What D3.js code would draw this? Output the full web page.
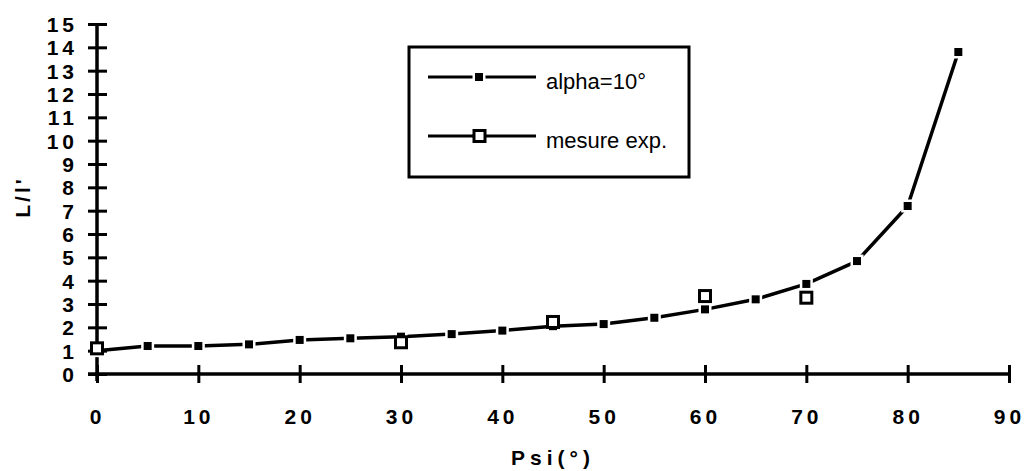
<!DOCTYPE html>
<html><head><meta charset="utf-8">
<script src="https://cdn.jsdelivr.net/npm/d3@7/dist/d3.min.js"></script>
<style>
body{margin:0;background:#fff}
text{font-family:"Liberation Sans",Arial,Helvetica,sans-serif;fill:#000}
</style>
</head><body>
<svg id="chart" width="1024" height="471"></svg>
<script>
// ---- data ----
const psiTheory   = [0, 5, 10, 15, 20, 25, 30, 35, 40, 45, 50, 55, 60, 65, 70, 75, 80, 85];
const ratioTheory = [1.0, 1.2, 1.2, 1.27, 1.46, 1.53, 1.6, 1.71, 1.86, 2.05, 2.14, 2.41, 2.77, 3.2, 3.86, 4.84, 7.2, 13.8];
const psiMeasured   = [0, 30, 45, 60, 70];
const ratioMeasured = [1.1, 1.36, 2.23, 3.34, 3.27];
const xTickValues = [0, 10, 20, 30, 40, 50, 60, 70, 80, 90];
const yTickValues = [0, 1, 2, 3, 4, 5, 6, 7, 8, 9, 10, 11, 12, 13, 14, 15];
const seriesNames = ["alpha=10°", "mesure exp."];
const xTitle = "Psi(°)";
const yTitle = "L/l'";

const svg = d3.select("#chart");
const x = d3.scaleLinear().domain([0, 90]).range([97, 1009]);
const y = d3.scaleLinear().domain([0, 15]).range([374, 24]);

const theory = psiTheory.map((p, i) => ({p, v: ratioTheory[i]}));
const measured = psiMeasured.map((p, i) => ({p, v: ratioMeasured[i]}));

// ---- axes ----
const yAxis = svg.append("g").attr("transform", `translate(${x(0)},0)`)
  .call(d3.axisLeft(y).tickValues(yTickValues).tickSizeInner(9).tickSizeOuter(0).tickPadding(10));
yAxis.select(".domain").remove();
yAxis.selectAll(".tick line").attr("x1", 10).attr("stroke", "#000").attr("stroke-width", 3);
yAxis.selectAll(".tick text").attr("font-size", 21).attr("font-weight", "bold")
  .attr("letter-spacing", "4px").attr("dy", "0.36em");
svg.append("line").attr("x1", x(0)).attr("x2", x(0)).attr("y1", y(15)).attr("y2", y(0) + 7)
  .attr("stroke", "#000").attr("stroke-width", 3.5);

const xAxis = svg.append("g").attr("transform", `translate(0,${y(0)})`)
  .call(d3.axisBottom(x).tickValues(xTickValues).tickSizeInner(9).tickSizeOuter(0).tickPadding(26));
xAxis.select(".domain").remove();
xAxis.selectAll(".tick line").attr("y1", -9).attr("stroke", "#000").attr("stroke-width", 3);
xAxis.selectAll(".tick text").attr("font-size", 21).attr("font-weight", "bold")
  .attr("letter-spacing", "4px");
svg.append("line").attr("x1", x(0) - 9).attr("x2", x(90)).attr("y1", y(0)).attr("y2", y(0))
  .attr("stroke", "#000").attr("stroke-width", 3.5);

// titles
svg.append("text").attr("transform", "translate(30,197) rotate(-90)")
  .attr("text-anchor", "middle").attr("font-size", 21).attr("font-weight", "bold")
  .attr("letter-spacing", "3px").text(yTitle);
svg.append("text").attr("x", 553).attr("y", 465).attr("text-anchor", "middle")
  .attr("font-size", 21).attr("font-weight", "bold").attr("letter-spacing", "5px").text(xTitle);

// ---- series ----
const line = d3.line().x(d => x(d.p)).y(d => y(d.v));
svg.append("path").datum(theory).attr("d", line).attr("fill", "none")
  .attr("stroke", "#000").attr("stroke-width", 3.5).attr("stroke-linejoin", "round");
// halos that cut small gaps in the line around the markers
svg.append("g").selectAll("rect").data(theory).join("rect")
  .attr("x", d => x(d.p) - 6.5).attr("y", d => y(d.v) - 6.5).attr("width", 13).attr("height", 13)
  .attr("fill", "#fff");
svg.append("g").selectAll("rect").data(theory).join("rect")
  .attr("x", d => x(d.p) - 4).attr("y", d => y(d.v) - 4).attr("width", 8).attr("height", 8)
  .attr("fill", "#000");

svg.append("g").selectAll("rect").data(measured).join("rect")
  .attr("x", d => x(d.p) - 5.5).attr("y", d => y(d.v) - 5.5).attr("width", 11).attr("height", 11)
  .attr("fill", "#fff").attr("stroke", "#000").attr("stroke-width", 3);

// ---- legend ----
const lg = svg.append("g");
lg.append("rect").attr("x", 409).attr("y", 47).attr("width", 280).attr("height", 130)
  .attr("fill", "#fff").attr("stroke", "#000").attr("stroke-width", 3);
const rows = [77, 136];
rows.forEach((ry, i) => {
  lg.append("line").attr("x1", 428).attr("x2", 536).attr("y1", ry).attr("y2", ry)
    .attr("stroke", "#000").attr("stroke-width", 3);
  if (i === 0) {
    lg.append("rect").attr("x", 472.5).attr("y", ry - 6.5).attr("width", 13).attr("height", 13).attr("fill", "#fff");
    lg.append("rect").attr("x", 475).attr("y", ry - 4).attr("width", 8).attr("height", 8).attr("fill", "#000");
  } else {
    lg.append("rect").attr("x", 474).attr("y", ry - 5.5).attr("width", 11).attr("height", 11)
      .attr("fill", "#fff").attr("stroke", "#000").attr("stroke-width", 3);
  }
  lg.append("text").attr("x", 546).attr("y", ry + 12).attr("font-size", 22).text(seriesNames[i]);
});
</script>
</body></html>
